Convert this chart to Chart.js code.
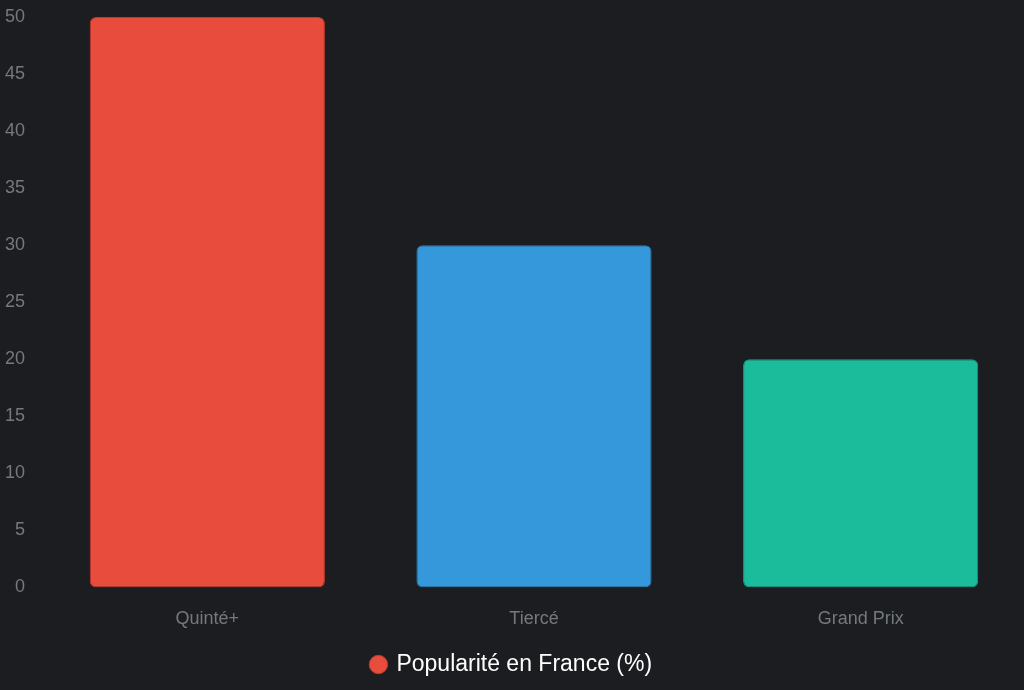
<!DOCTYPE html>
<html>
<head>
<meta charset="utf-8">
<script src="https://cdn.jsdelivr.net/npm/chart.js@4"></script>
<style>
  html, body { margin: 0; padding: 0; background: #1c1d21; }
  #wrap { width: 1024px; height: 690px; }
</style>
</head>
<body>
<div id="wrap"><canvas id="chart"></canvas></div>
<script>
const categories = ['Quinté+', 'Tiercé', 'Grand Prix']
const popularity = [50, 30, 20]
const seriesLabel = 'Popularité en France (%)'
const barColors = ['#e74c3c', '#3498db', '#1abc9c']
const borderColors = ['#c0392b', '#2980b9', '#16a085']

const ctx = document.getElementById('chart')
const fontFamily = 'Liberation Sans, Arial, sans-serif'

new Chart(ctx, {
  type: 'bar',
  data: {
    labels: categories,
    datasets: [{
      label: seriesLabel,
      data: popularity,
      backgroundColor: barColors,
      borderColor: borderColors,
      borderWidth: 1,
      borderRadius: 6,
      borderSkipped: false
    }]
  },
  options: {
    responsive: true,
    maintainAspectRatio: false,
    animation: false,
    layout: {
      autoPadding: false,
      padding: { top: 17, right: 0, left: 0, bottom: 4 }
    },
    plugins: {
      legend: {
        position: 'bottom',
        labels: {
          color: '#ffffff',
          usePointStyle: true,
          pointStyle: 'circle',
          boxWidth: 13,
          boxHeight: 13,
          padding: 10,
          font: { family: fontFamily, size: 23 }
        }
      },
      tooltip: { enabled: false }
    },
    scales: {
      y: {
        beginAtZero: true,
        max: 50,
        afterFit: (scale) => {
          scale.width = 44
          scale.paddingTop = 0
          scale.paddingBottom = 0
        },
        ticks: {
          stepSize: 5,
          color: '#74797e',
          padding: 11,
          font: { family: fontFamily, size: 18 }
        },
        grid: { display: false },
        border: { display: false }
      },
      x: {
        ticks: {
          color: '#74797e',
          padding: 13,
          font: { family: fontFamily, size: 18 }
        },
        grid: { display: false },
        border: { display: false }
      }
    }
  }
})
</script>
</body>
</html>
